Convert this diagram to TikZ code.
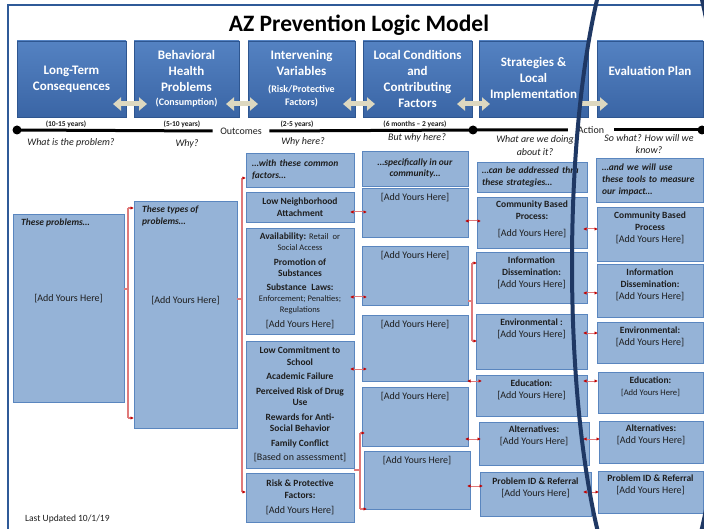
\documentclass[tikz,border=0pt]{standalone}
\usepackage{fontspec}
\setmainfont{Carlito}
\usetikzlibrary{arrows.meta,shadows,calc}
\definecolor{frameblue}{HTML}{2F5A98}
\definecolor{navy}{HTML}{1F3864}
\definecolor{hdrtop}{HTML}{5482C2}
\definecolor{hdrbot}{HTML}{3A65A5}
\definecolor{hdrline}{HTML}{2E5690}
\definecolor{boxfill}{HTML}{95B3D7}
\definecolor{boxline}{HTML}{5A86BF}
\definecolor{beige}{HTML}{DDD8C0}
\definecolor{brkred}{HTML}{E07A7A}
\definecolor{tipred}{HTML}{C00000}
\definecolor{ink}{HTML}{1E1E1E}
\newcommand\ayh{{\fontsize{10}{12}\selectfont{[}Add Yours Here{]}}}
\begin{document}
\begin{tikzpicture}[x=1pt,y=-1pt,
  hdr/.style={anchor=north west, inner sep=0pt, outer sep=0pt, draw=hdrline, line width=0.6pt,
    top color=hdrtop, bottom color=hdrbot,
    drop shadow={opacity=0.35,shadow xshift=1.2pt,shadow yshift=-1.2pt},
    text=white, font=\bfseries\fontsize{13}{16}\selectfont, align=center},
  htxt/.style={inner sep=0pt, text=white, font=\bfseries\fontsize{13}{16}\selectfont, align=center},
  lbox/.style={anchor=north west, inner sep=0pt, outer sep=0pt, draw=boxline, line width=0.7pt,
    fill=boxfill, drop shadow={opacity=0.3,shadow xshift=1pt,shadow yshift=-1pt},
    text=ink, align=center, font=\fontsize{9.5}{12}\selectfont},
  tx/.style={inner sep=0pt, align=center, text=ink, font=\fontsize{9.5}{12}\selectfont},
  bi/.style={inner sep=0pt, align=left, text=ink, font=\bfseries\itshape\fontsize{9.5}{12}\selectfont},
  yrs/.style={inner sep=0pt, text=ink, font=\bfseries\fontsize{7.5}{9}\selectfont},
  qs/.style={inner sep=0pt, text=ink, align=center, font=\itshape\fontsize{10}{12.5}\selectfont},
  tline/.style={line width=3pt, black},
  dot/.style={circle, fill=black, inner sep=0pt, minimum size=9pt},
  barrow/.style={line width=5pt, beige, {Triangle[width=13pt,length=8pt]}-{Triangle[width=13pt,length=8pt]}},
  barrowr/.style={line width=5pt, beige, -{Triangle[width=13pt,length=8pt]}},
  rc/.style={draw=brkred, line width=1pt,
    {Latex[length=3.5pt,width=3.5pt,color=tipred]}-{Latex[length=3.5pt,width=3.5pt,color=tipred]}},
  brk/.style={draw=brkred, line width=1.1pt},
  brka/.style={draw=brkred, line width=1.1pt, -{Latex[length=3.5pt,width=3.5pt,color=tipred]}}
]
\fill[white] (0,0) rectangle (704,529);
\useasboundingbox (0,0) rectangle (704,529);
\draw[frameblue, line width=2pt] (8,540) -- (8,5) -- (720,5);

% title
\node[font=\bfseries\fontsize{23.5}{26}\selectfont, text=black, inner sep=0pt] (title) at (359,25) {AZ Prevention Logic Model};

% header boxes
\node[hdr, minimum width=109pt, minimum height=76pt] (h1) at (17,41) {Long-Term\\Consequences};
\node[hdr, minimum width=105pt, minimum height=76pt] (h2) at (134,41) {Behavioral\\Health\\Problems\\[-2pt]{\fontsize{10}{14}\selectfont (Consumption)}};
\node[hdr, minimum width=107pt, minimum height=76pt] (h3) at (248,41) {Intervening\\Variables\\[1pt]{\fontsize{10}{12}\selectfont (Risk/Protective}\\[-3pt]{\fontsize{10}{12}\selectfont Factors)}};
\node[hdr, minimum width=109pt, minimum height=76pt] (h4) at (363,41) {Local Conditions\\and\\Contributing\\Factors};
\node[hdr, minimum width=109pt, minimum height=76pt] (h5) at (479,41) {Strategies \&\\Local\\Implementation};
\node[hdr, minimum width=106pt, minimum height=76pt] (h6) at (597,41) {};
\node[htxt] (h6t) at (650,71) {Evaluation Plan};

% beige arrows
\coordinate (ya) at (0,104);
\draw[barrow, shorten <=-13pt, shorten >=-13pt] (ya -| h1.east) -- (ya -| h2.west);
\draw[barrow, shorten <=-13pt, shorten >=-10pt] (ya -| h2.east) -- (ya -| h3.west);
\draw[barrow, shorten <=-12pt, shorten >=-12pt] (ya -| h3.east) -- (ya -| h4.west);
\draw[barrow, shorten <=-15pt, shorten >=-11pt] (ya -| h4.east) -- (ya -| h5.west);
\draw[barrowr, shorten <=-8pt, shorten >=-11pt] (ya -| h5.east) -- (ya -| h6.west);

% timeline
\node[dot] (d1) at (17,130) {};
\node[dot] (d2) at (473,130) {};
\node[dot] (d3) at (702,130) {};
\node[inner sep=0pt, inner xsep=7.5pt, text=ink, font=\fontsize{10}{12}\selectfont] (tout) at (241,131) {Outcomes};
\node[inner sep=0pt, inner xsep=10pt, text=ink, font=\fontsize{10}{12}\selectfont] (tact) at (591,130) {Action};
\draw[tline] (d1.center) -- (tout.west);
\draw[tline] (tout.east) -- (d2.center) -- (tact.west);
\draw[tline] (tact.east) -- (d3.center);

\node[yrs] (y1) at (66,124) {(10-15 years)};
\node[yrs] (y2) at (182,124) {(5-10 years)};
\node[yrs] (y3) at (297,124) {(2-5 years)};
\node[yrs] (y4) at (415,124) {(6 months – 2 years)};

\node[qs] (q1) at (71,143) {What is the problem?};
\node[qs] (q2) at (187,144) {Why?};
\node[qs] (q3) at (303,142) {Why here?};
\node[qs] (q4) at (417,138) {But why here?};
\node[qs] (q5) at (535,145.5) {What are we doing\\about it?};
\node[qs] (q6) at (649,144) {So what? How will we\\know?};

% column 1
\node[lbox, minimum width=111pt, minimum height=188pt] (c1) at (13,214) {};
\node[bi, anchor=north west] (c1h) at ($(c1.north west)+(8,5)$) {These problems…};
\node[tx] (c1t) at (68.5,299) {\ayh};

% column 2
\node[lbox, minimum width=103pt, minimum height=227pt] (c2) at (134,201) {};
\node[bi, anchor=north west] (c2h) at ($(c2.north west)+(8,5)$) {These types of\\problems…};
\node[tx] (c2t) at (185.5,301) {\ayh};

% column 3
\node[lbox, minimum width=108pt, minimum height=34pt, text width=96pt, align=left, font=\bfseries\itshape\fontsize{9.5}{12}\selectfont] (c3a) at (246,153) {…with these common\\factors…};
\node[lbox, minimum width=108pt, minimum height=30pt, font=\bfseries\fontsize{9.5}{12}\selectfont] (c3b) at (246,192) {Low Neighborhood\\Attachment};
\node[lbox, minimum width=108pt, minimum height=106pt, font=\fontsize{9.5}{11}\selectfont] (c3c) at (246,228) {%
\textbf{Availability:} {\fontsize{8.5}{11}\selectfont Retail\enspace or}\\
{\fontsize{8.5}{11}\selectfont Social Access}\\[3.5pt]
\textbf{Promotion of}\\
\textbf{Substances}\\[3.5pt]
\textbf{Substance\enspace Laws:}\\
{\fontsize{8.5}{11}\selectfont Enforcement; Penalties;}\\
{\fontsize{8.5}{11}\selectfont Regulations}\\[3.5pt]
\ayh};
\node[lbox, minimum width=108pt, minimum height=127pt, font=\fontsize{9.5}{11.5}\selectfont] (c3d) at (246,341) {%
\textbf{Low Commitment to}\\
\textbf{School}\\[3pt]
\textbf{Academic Failure}\\[3pt]
\textbf{Perceived Risk of Drug}\\
\textbf{Use}\\[3pt]
\textbf{Rewards for Anti-}\\
\textbf{Social Behavior}\\[3pt]
\textbf{Family Conflict}\\[3pt]
{\fontsize{10}{12}\selectfont{[}Based on assessment{]}}};
\node[lbox, minimum width=108pt, minimum height=49pt] (c3e) at (246,473) {%
\textbf{Risk \& Protective}\\
\textbf{Factors:}\\[3pt]
\ayh};

% column 4
\node[lbox, minimum width=106pt, minimum height=35pt, font=\bfseries\itshape\fontsize{9.5}{11.5}\selectfont] (c4a) at (362,151) {…specifically in our\\community…};
\node[lbox, minimum width=106pt, minimum height=49pt] (c4b) at (362,188) {};
\node[lbox, minimum width=106pt, minimum height=59pt] (c4c) at (362,246) {};
\node[lbox, minimum width=106pt, minimum height=66pt] (c4d) at (362,315) {};
\node[lbox, minimum width=106pt, minimum height=59pt] (c4e) at (362,387) {};
\node[lbox, minimum width=106pt, minimum height=58pt] (c4f) at (364,451) {};
\node[tx, anchor=north] (c4bt) at ($(c4b.north)+(0,5)$) {\ayh};
\node[tx, anchor=north] (c4ct) at ($(c4c.north)+(0,5)$) {\ayh};
\node[tx, anchor=north] (c4dt) at ($(c4d.north)+(0,5)$) {\ayh};
\node[tx, anchor=north] (c4et) at ($(c4e.north)+(0,5)$) {\ayh};
\node[tx, anchor=north] (c4ft) at ($(c4f.north)+(0,5)$) {\ayh};

% column 5
\node[lbox, minimum width=110pt, minimum height=30pt, text width=100pt, align=left, font=\bfseries\itshape\fontsize{9.5}{12}\selectfont] (c5a) at (477,162) {…can be addressed thru\\these strategies…};
\node[lbox, minimum width=110pt, minimum height=51pt] (c5b) at (477,197) {};
\node[lbox, minimum width=111pt, minimum height=51pt] (c5c) at (476,252) {};
\node[lbox, minimum width=111pt, minimum height=55pt] (c5d) at (476,314) {};
\node[lbox, minimum width=111pt, minimum height=41pt] (c5e) at (476,375) {};
\node[lbox, minimum width=110pt, minimum height=43pt] (c5f) at (479,422) {};
\node[lbox, minimum width=111pt, minimum height=44pt] (c5g) at (480,472) {};
\node[tx, anchor=north] (c5bt) at ($(c5b.north)+(0,4)$) {\textbf{Community Based}\\\textbf{Process:}\\[5pt]\ayh};
\node[tx, anchor=north] (c5ct) at ($(c5c.north)+(0,5)$) {\textbf{Information}\\\textbf{Dissemination:}\\\ayh};
\node[tx, anchor=north] (c5dt) at ($(c5d.north)+(0,5)$) {\textbf{Environmental :}\\\ayh};
\node[tx, anchor=north] (c5et) at ($(c5e.north)+(0,5)$) {\textbf{Education:}\\\ayh};
\node[tx, anchor=north] (c5ft) at ($(c5f.north)+(0,4)$) {\textbf{Alternatives:}\\\ayh};
\node[tx, anchor=north] (c5gt) at ($(c5g.north)+(0,6)$) {\textbf{Problem ID \& Referral}\\\ayh};

% column 6
\node[lbox, minimum width=107pt, minimum height=44pt, text width=95pt, align=left, font=\bfseries\itshape\fontsize{9.5}{12}\selectfont] (c6a) at (596,158) {…and we will use\\these tools to measure\\our impact…};
\node[lbox, minimum width=106pt, minimum height=54pt] (c6b) at (597,207) {};
\node[lbox, minimum width=106pt, minimum height=53pt] (c6c) at (597,264) {};
\node[lbox, minimum width=106pt, minimum height=41pt] (c6d) at (597,322) {};
\node[lbox, minimum width=105pt, minimum height=41pt] (c6e) at (598,372) {};
\node[lbox, minimum width=104pt, minimum height=42pt] (c6f) at (599,421) {};
\node[lbox, minimum width=105pt, minimum height=42pt] (c6g) at (598,471) {};
\node[tx, anchor=north] (c6bt) at ($(c6b.north)+(0,5)$) {\textbf{Community Based}\\\textbf{Process}\\\ayh};
\node[tx, anchor=north] (c6ct) at ($(c6c.north)+(0,5)$) {\textbf{Information}\\\textbf{Dissemination:}\\\ayh};
\node[tx, anchor=north] (c6dt) at ($(c6d.north)+(0,5)$) {\textbf{Environmental:}\\\ayh};
\node[tx, anchor=north] (c6et) at ($(c6e.north)+(0,5)$) {\textbf{Education:}\\{\fontsize{8.6}{12}\selectfont{[}Add Yours Here{]}}};
\node[tx, anchor=north] (c6ft) at ($(c6f.north)+(0,4)$) {\textbf{Alternatives:}\\\ayh};
\node[tx, anchor=north] (c6gt) at ($(c6g.north)+(0,4)$) {\textbf{Problem ID \& Referral}\\\ayh};

% footer
\node[inner sep=0pt, anchor=west, text=ink, font=\fontsize{9.5}{12}\selectfont] (upd) at (25,519) {Last Updated 10/1/19};

% bracket 1: col1 -> col2
\coordinate (b1t) at (128,208);
\coordinate (b1b) at (128,418);
\coordinate (b1m) at (128,289);
\draw[brk] (b1m -| c1.east) -- (b1m);
\draw[brk] (b1t) -- (b1b);
\draw[brka] (b1t) -- (b1t -| c2.west);
\draw[brka] (b1b) -- (b1b -| c2.west);

% bracket 2: col2 -> col3
\coordinate (b2t) at (242,178);
\coordinate (b2b) at (242,492);
\coordinate (b2m) at (242,299);
\draw[brk] (b2m -| c2.east) -- (b2m);
\draw[brk] (b2t) -- (b2b);
\draw[brka] (b2t) -- (b2t -| c3a.west);
\draw[brka] (b2b) -- (b2b -| c3e.west);

% bracket 3: col3 -> col4 (E,F)
\coordinate (b3t) at (360,433);
\coordinate (b3b) at (360,509);
\coordinate (b3m) at (360,470);
\draw[brk] (b3m -| c3d.east) -- (b3m);
\draw[brk] (b3t) -- (b3b);
\draw[brka, shorten >=-3pt] (b3t) -- (b3t -| c4e.west);
\draw[brka, shorten >=-3pt] (b3b) -- (b3b -| c4f.west);

% bracket 4: col4 -> col5 (Info, Env)
\coordinate (b4t) at (472,263);
\coordinate (b4b) at (472,341);
\coordinate (b4m) at (472,301);
\draw[brk] (b4m -| c4c.east) -- (b4m);
\draw[brk] (b4t) -- (b4b);
\draw[brka, shorten >=-1pt] (b4t) -- (b4t -| c5c.west);
\draw[brka, shorten >=-1pt] (b4b) -- (b4b -| c5d.west);

% short double arrows col3 <-> col4
\coordinate (r1) at (0,212);
\coordinate (r2) at (0,297);
\coordinate (r3) at (0,369);
\draw[rc, shorten <=-4pt, shorten >=-5pt] (r1 -| c3b.east) -- (r1 -| c4b.west);
\draw[rc, shorten <=-4pt, shorten >=-5pt] (r2 -| c3c.east) -- (r2 -| c4c.west);
\draw[rc, shorten <=-4pt, shorten >=-5pt] (r3 -| c3d.east) -- (r3 -| c4d.west);

% col4 <-> col5
\coordinate (s1) at (0,221);
\coordinate (s2) at (0,381);
\coordinate (s3) at (0,439);
\coordinate (s4) at (0,486);
\draw[rc, shorten <=-3pt, shorten >=-4pt] (s1 -| c4b.east) -- (s1 -| c5b.west);
\draw[rc, shorten <=-1pt, shorten >=-6pt] (s2 -| c4d.east) -- (s2 -| c5e.west);
\draw[rc, shorten <=-3pt, shorten >=-2pt] (s3 -| c4e.east) -- (s3 -| c5f.west);
\draw[rc, shorten <=-3pt, shorten >=-3pt] (s4 -| c4f.east) -- (s4 -| c5g.west);

% col5 <-> col6
\coordinate (u1) at (0,229);
\coordinate (u2) at (0,293);
\coordinate (u3) at (0,333);
\coordinate (u4) at (0,381);
\coordinate (u5) at (0,439);
\coordinate (u6) at (0,492);
\draw[rc, shorten <=-4pt, shorten >=-1pt] (u1 -| c5b.east) -- (u1 -| c6b.west);
\draw[rc, shorten <=-4pt, shorten >=-1pt] (u2 -| c5c.east) -- (u2 -| c6c.west);
\draw[rc, shorten <=-4pt, shorten >=-1pt] (u3 -| c5d.east) -- (u3 -| c6d.west);
\draw[rc, shorten <=-4pt, shorten >=0pt] (u4 -| c5e.east) -- (u4 -| c6e.west);
\draw[rc, shorten <=-6pt, shorten >=-1pt] (u5 -| c5f.east) -- (u5 -| c6f.west);
\draw[rc, shorten <=-8pt, shorten >=-1pt] (u6 -| c5g.east) -- (u6 -| c6g.west);

% big outline
\begin{scope}
\clip (0,0) rectangle (704,529);
\draw[navy, line width=4pt] (649.5,264) ellipse [x radius=77.5pt, y radius=359pt];
\end{scope}
\end{tikzpicture}
\end{document}
